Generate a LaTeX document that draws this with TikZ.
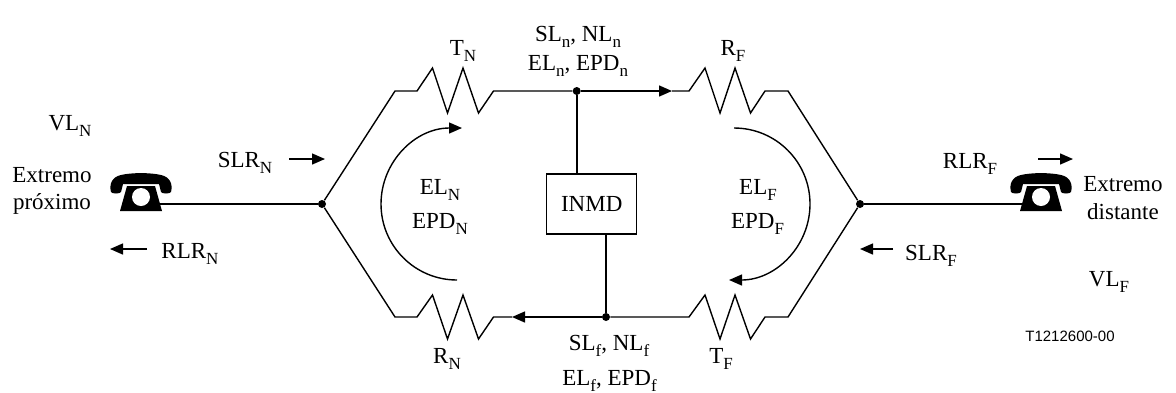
\documentclass[tikz,border=0pt]{standalone}
\usepackage{fontspec}
\setmainfont{Liberation Serif}
\newfontfamily\arialfont{Liberation Sans}
\usetikzlibrary{arrows.meta}
\newcommand{\sbx}[1]{\raisebox{-0.27em}{\fontsize{8.5pt}{8.5pt}\selectfont #1}}
\begin{document}
\begin{tikzpicture}[x=0.5pt,y=-0.5pt,
 wire/.style={line width=0.7pt, line join=miter},
 heavy/.style={line width=1pt},
 arr/.style={-{Triangle[length=6.5pt,width=5.5pt]}},
 dotnode/.style={circle,fill,inner sep=0pt,minimum size=4pt},
 lbl/.style={inner sep=0pt,font=\fontsize{11.5pt}{13.8pt}\selectfont,anchor=base},
 boxnode/.style={draw,line width=0.6pt,minimum width=45pt,minimum height=30pt,inner sep=0pt,font=\fontsize{11.5pt}{13.8pt}\selectfont},
 phone/.pic={
  \fill (-30,0) .. controls (-32,-8) and (-29,-15) .. (-20,-17) .. controls (-10,-19.5) and (10,-19.5) .. (20,-17) .. controls (29,-15) and (32,-8) .. (30,0) .. controls (29,2) and (21,2) .. (20,0) -- (18,-8) -- (-18,-8) -- (-20,0) .. controls (-21,2) and (-29,2) .. (-30,0) -- cycle;
  \fill (-14,-6) -- (14,-6) -- (21,19) -- (-21,19) -- cycle;
  \fill[white] (0,5) circle[radius=4.5pt];
 }]
\useasboundingbox (0,0) rectangle (1176,392);

% phones
\pic at (141,192) {phone};
\pic at (1041,192) {phone};
\coordinate (phL) at (160,204);
\coordinate (phR) at (1022,204);

% junction dots
\node[dotnode] (hl) at (322,204) {};
\node[dotnode] (hr) at (860,204) {};
\node[dotnode] (topdot) at (576.7,91) {};
\node[dotnode] (botdot) at (606,317) {};

% INMD
\node[boxnode] (inmd) at (591.7,204) {INMD};
\draw[heavy] (topdot) -- (topdot |- inmd.north);
\draw[heavy] (botdot |- inmd.south) -- (botdot);

% phone lines
\draw[heavy] (phL) -- (hl);
\draw[heavy] (hr) -- (phR);

% corners
\coordinate (ctl) at (395,91);
\coordinate (cbl) at (395,317);
\coordinate (ctr) at (788,91);
\coordinate (cbr) at (788,317);
\coordinate (atop) at (672,91);
\coordinate (abot) at (512,317);

% left hybrid, top path with T_N
\draw[wire] (hl) -- (ctl) -- (417,91) -- (432.5,68) -- (447.5,113) -- (463,68) -- (478.5,113) -- (493.5,91) -- (topdot);
\draw[wire,arr] (topdot) -- (atop);
\draw[wire] (atop) -- (689,91) -- (705,68) -- (720,113) -- (735,68) -- (750.5,113) -- (765,91) -- (ctr) -- (hr);
% bottom path
\draw[wire] (hr) -- (cbr) -- (765,317) -- (750.5,339) -- (735,295) -- (720,339) -- (705,295) -- (689,317) -- (botdot);
\draw[wire,arr] (botdot) -- (abot);
\draw[wire] (abot) -- (493.5,317) -- (478.5,339) -- (463,295) -- (447.5,339) -- (432.5,295) -- (417,317) -- (cbl) -- (hl);

% echo arcs
\draw[wire,arr] (457,280) .. controls (415,280) and (381,246) .. (381,204) .. controls (381,162) and (415,128) .. (462,128);
\draw[wire,arr] (734,128) .. controls (776,128) and (810,162) .. (810,204) .. controls (810,246) and (776,280) .. (729,280);

% small direction arrows
\coordinate (a1s) at (289,159); \coordinate (a1e) at (325,159);
\coordinate (a2s) at (147,249); \coordinate (a2e) at (110,249);
\coordinate (a3s) at (1038,159); \coordinate (a3e) at (1073,159);
\coordinate (a4s) at (893,249); \coordinate (a4e) at (860,249);
\draw[wire,arr] (a1s) -- (a1e);
\draw[wire,arr] (a2s) -- (a2e);
\draw[wire,arr] (a3s) -- (a3e);
\draw[wire,arr] (a4s) -- (a4e);

% labels
\node[lbl] (vln) at (70,130) {VL\sbx{N}};
\node[lbl] (ext1) at (52,182) {Extremo};
\node[lbl] (prox) at (52,209) {próximo};
\node[lbl] (slrn) at (245,167.5) {SLR\sbx{N}};
\node[lbl] (rlrn) at (190,258.5) {RLR\sbx{N}};
\node[lbl] (tn) at (463,55) {T\sbx{N}};
\node[lbl] (rn) at (447,363.5) {R\sbx{N}};
\node[lbl] (sln) at (578,41.5) {SL\sbx{n}, NL\sbx{n}};
\node[lbl] (eln) at (578,70.5) {EL\sbx{n}, EPD\sbx{n}};
\node[lbl] (slf) at (609,350) {SL\sbx{f}, NL\sbx{f}};
\node[lbl] (elf) at (609.5,385) {EL\sbx{f}, EPD\sbx{f}};
\node[lbl] (elN) at (440,194) {EL\sbx{N}};
\node[lbl] (epdN) at (440,228.5) {EPD\sbx{N}};
\node[lbl] (elF) at (758,194) {EL\sbx{F}};
\node[lbl] (epdF) at (757.5,228.5) {EPD\sbx{F}};
\node[lbl] (rf) at (733,55) {R\sbx{F}};
\node[lbl] (tf) at (721,363) {T\sbx{F}};
\node[lbl] (rlrf) at (970,168.3) {RLR\sbx{F}};
\node[lbl] (slrf) at (931,260) {SLR\sbx{F}};
\node[lbl] (vlf) at (1109,286) {VL\sbx{F}};
\node[lbl] (ext2) at (1123,191.5) {Extremo};
\node[lbl] (dist) at (1123,219.3) {distante};
\node[inner sep=0pt,font=\arialfont\fontsize{7.5pt}{9pt}\selectfont] (code) at (1070,336.7) {T1212600-00};
\end{tikzpicture}
\end{document}
